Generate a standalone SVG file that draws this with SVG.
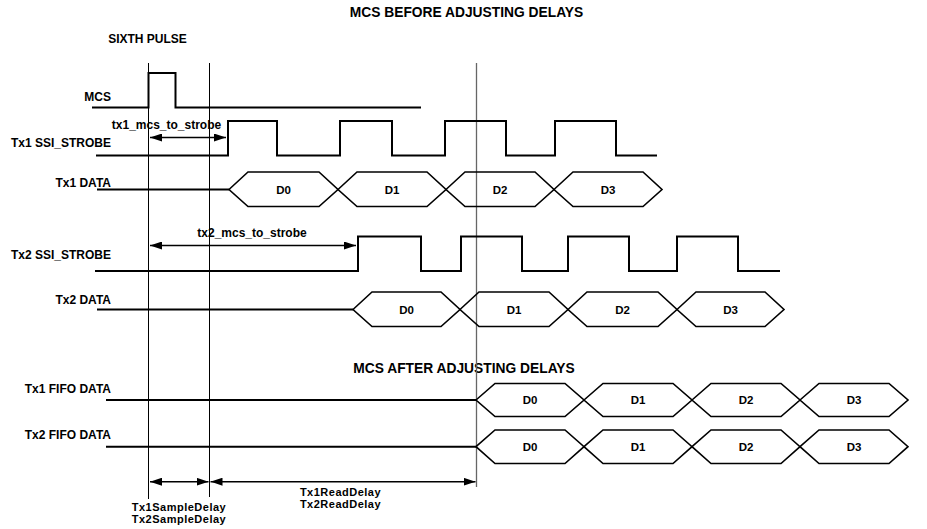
<svg xmlns="http://www.w3.org/2000/svg" width="927" height="529" viewBox="0 0 927 529">
<style>
text{font-family:"Liberation Sans",Arial,sans-serif;font-weight:bold;fill:#000}
.lbl{font-size:12px;text-anchor:end}
.ttl{font-size:13.8px;text-anchor:middle}
.d{font-size:11.5px;text-anchor:middle}
.ann{font-size:12px;text-anchor:middle}
.ann2{font-size:11px;text-anchor:middle;letter-spacing:0.5px}
.sig{fill:none;stroke:#000;stroke-width:2;stroke-linejoin:miter}
.hex{fill:none;stroke:#000;stroke-width:1.6;stroke-linejoin:miter}
.ref{stroke:#000;stroke-width:1}
.ref3{stroke:#666;stroke-width:1.3}
.dim{stroke:#000;stroke-width:1.5;fill:none}
</style>
<defs>
<marker id="ah" viewBox="0 0 12 8" refX="12" refY="4" markerWidth="12" markerHeight="8" markerUnits="userSpaceOnUse" orient="auto-start-reverse">
<path d="M0,0 L12,4 L0,8 Z" fill="#000"/>
</marker>
</defs>
<rect width="927" height="529" fill="#fff"/>

<text class="ttl" x="466.5" y="17">MCS BEFORE ADJUSTING DELAYS</text>
<text class="ann" x="147.5" y="43">SIXTH PULSE</text>
<text class="ttl" x="464" y="373">MCS AFTER ADJUSTING DELAYS</text>

<g id="guides">
<line class="ref" x1="148.5" y1="63" x2="148.5" y2="499"/>
<line class="ref" x1="209.5" y1="63" x2="209.5" y2="497"/>
<line class="ref3" x1="476.5" y1="63" x2="476.5" y2="487"/>
</g>

<g id="mcs">
<text class="lbl" x="111" y="101">MCS</text>
<path class="sig" d="M92,107.5 H148.5 V73 H175.5 V107.5 H421"/>
</g>

<g id="tx1-strobe">
<text class="lbl" x="111" y="147">Tx1 SSI_STROBE</text>
<path class="sig" d="M96,155.5 H228 V121 H277 V155.5 H340 V121 H392 V155.5 H445 V121 H506 V155.5 H555 V121 H616 V155.5 H657"/>
</g>

<g id="tx1-data">
<text class="lbl" x="111" y="187">Tx1 DATA</text>
<path class="sig" d="M97,189.5 H229"/>
<polygon class="hex" points="229,189.5 248,172 319,172 338,189.5 319,206.5 248,206.5"/>
<polygon class="hex" points="338,189.5 357,172 427,172 446,189.5 427,206.5 357,206.5"/>
<polygon class="hex" points="446,189.5 465,172 535,172 554,189.5 535,206.5 465,206.5"/>
<polygon class="hex" points="554,189.5 573,172 643,172 662,189.5 643,206.5 573,206.5"/>
<text class="d" x="283.5" y="193.5">D0</text>
<text class="d" x="392" y="193.5">D1</text>
<text class="d" x="500" y="193.5">D2</text>
<text class="d" x="608" y="193.5">D3</text>
</g>

<g id="tx2-strobe">
<text class="lbl" x="111" y="259">Tx2 SSI_STROBE</text>
<path class="sig" d="M95,271 H358 V236.5 H421 V271 H461 V236.5 H522 V271 H568 V236.5 H629 V271 H677 V236.5 H738 V271 H780"/>
</g>

<g id="tx2-data">
<text class="lbl" x="111" y="304">Tx2 DATA</text>
<path class="sig" d="M97,309.5 H353"/>
<polygon class="hex" points="353,309.5 372,292 441,292 460,309.5 441,326.5 372,326.5"/>
<polygon class="hex" points="460,309.5 479,292 549,292 568,309.5 549,326.5 479,326.5"/>
<polygon class="hex" points="568,309.5 587,292 658,292 677,309.5 658,326.5 587,326.5"/>
<polygon class="hex" points="677,309.5 696,292 765,292 784,309.5 765,326.5 696,326.5"/>
<text class="d" x="406.5" y="313.5">D0</text>
<text class="d" x="514" y="313.5">D1</text>
<text class="d" x="622.5" y="313.5">D2</text>
<text class="d" x="730.5" y="313.5">D3</text>
</g>

<g id="tx1-fifo">
<text class="lbl" x="111" y="393">Tx1 FIFO DATA</text>
<path class="sig" d="M106,400 H476"/>
<polygon class="hex" points="476,400 495,383.5 565,383.5 584,400 565,416.5 495,416.5"/>
<polygon class="hex" points="584,400 603,383.5 673,383.5 692,400 673,416.5 603,416.5"/>
<polygon class="hex" points="692,400 711,383.5 781,383.5 800,400 781,416.5 711,416.5"/>
<polygon class="hex" points="800,400 819,383.5 889,383.5 908,400 889,416.5 819,416.5"/>
<text class="d" x="530" y="404">D0</text>
<text class="d" x="638" y="404">D1</text>
<text class="d" x="746" y="404">D2</text>
<text class="d" x="854" y="404">D3</text>
</g>

<g id="tx2-fifo">
<text class="lbl" x="111" y="438.5">Tx2 FIFO DATA</text>
<path class="sig" d="M106,446.7 H476"/>
<polygon class="hex" points="476,446.7 495,430 565,430 584,446.7 565,463.5 495,463.5"/>
<polygon class="hex" points="584,446.7 603,430 673,430 692,446.7 673,463.5 603,463.5"/>
<polygon class="hex" points="692,446.7 711,430 781,430 800,446.7 781,463.5 711,463.5"/>
<polygon class="hex" points="800,446.7 819,430 889,430 908,446.7 889,463.5 819,463.5"/>
<text class="d" x="530" y="450.7">D0</text>
<text class="d" x="638" y="450.7">D1</text>
<text class="d" x="746" y="450.7">D2</text>
<text class="d" x="854" y="450.7">D3</text>
</g>

<g id="connectors">
<line class="dim" x1="150" y1="137.5" x2="226" y2="137.5" marker-start="url(#ah)" marker-end="url(#ah)"/>
<line class="dim" x1="150" y1="245.5" x2="356" y2="245.5" marker-start="url(#ah)" marker-end="url(#ah)"/>
<line class="dim" x1="150" y1="481.7" x2="208.5" y2="481.7" marker-start="url(#ah)" marker-end="url(#ah)"/>
<line class="dim" x1="210.5" y1="481.7" x2="475.5" y2="481.7" marker-start="url(#ah)" marker-end="url(#ah)"/>
</g>

<g id="annotations">
<text class="ann" x="166.5" y="129">tx1_mcs_to_strobe</text>
<text class="ann" x="252" y="237">tx2_mcs_to_strobe</text>
<text class="ann2" x="179" y="511">Tx1SampleDelay</text>
<text class="ann2" x="179" y="522.5">Tx2SampleDelay</text>
<text class="ann2" x="340.5" y="496">Tx1ReadDelay</text>
<text class="ann2" x="340.5" y="507.5">Tx2ReadDelay</text>
</g>
</svg>
